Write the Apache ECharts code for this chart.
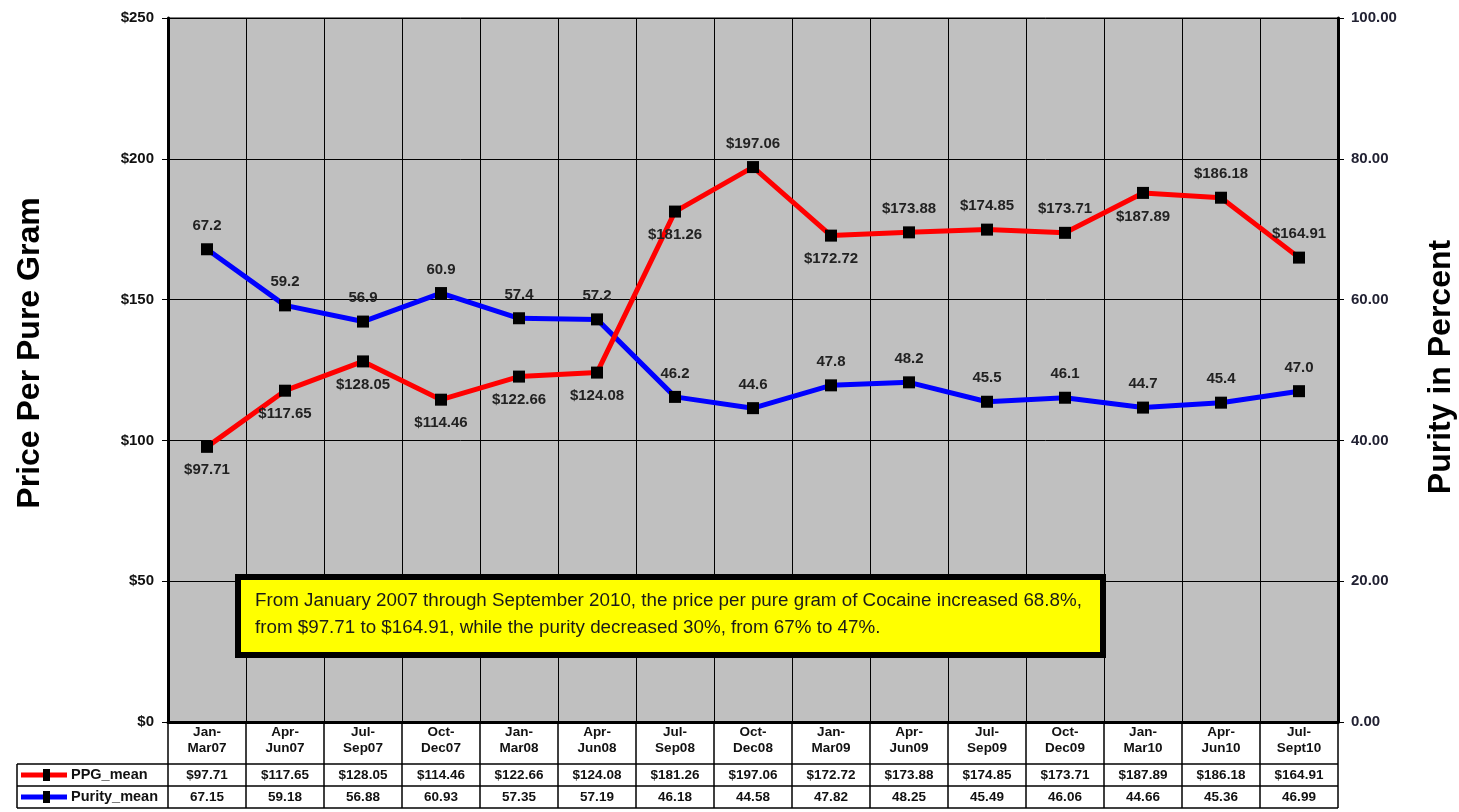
<!DOCTYPE html>
<html><head><meta charset="utf-8">
<script src="https://cdn.jsdelivr.net/npm/echarts@6/dist/echarts.min.js"></script>
<style>html,body{margin:0;padding:0;background:#fff}#c{width:1459px;height:812px}</style>
</head><body><div id="c"></div>
<script>
// ---------- data ----------
const categories = ['Jan-\nMar07','Apr-\nJun07','Jul-\nSep07','Oct-\nDec07','Jan-\nMar08','Apr-\nJun08','Jul-\nSep08','Oct-\nDec08','Jan-\nMar09','Apr-\nJun09','Jul-\nSep09','Oct-\nDec09','Jan-\nMar10','Apr-\nJun10','Jul-\nSept10'];
const ppgMean = [97.71,117.65,128.05,114.46,122.66,124.08,181.26,197.06,172.72,173.88,174.85,173.71,187.89,186.18,164.91];
const purityMean = [67.15,59.18,56.88,60.93,57.35,57.19,46.18,44.58,47.82,48.248,45.49,46.06,44.66,45.36,46.99];
const seriesNames = ['PPG_mean','Purity_mean'];
const axisTitles = ['Price Per Pure Gram','Purity in Percent'];
const annotationLines = [
  'From January 2007 through September 2010, the price per pure gram of Cocaine increased 68.8%,',
  'from $97.71 to $164.91, while the purity decreased 30%, from 67% to 47%.'
];

// ---------- styling ----------
const FONT = 'Arial, "Liberation Sans", sans-serif';
const ppgLabelSide = ['bottom','bottom','bottom','bottom','bottom','bottom','bottom','top','bottom','top','top','top','bottom','top','top'];
const colors = ['#ff0000','#0000ff'];

const chart = echarts.init(document.getElementById('c'));
const labelBase = {show:true, fontFamily:FONT, fontWeight:'bold', fontSize:15, color:'#222', distance:10};

chart.setOption({
  animation:false,
  backgroundColor:'#ffffff',
  grid:{left:168, right:121, top:18, bottom:90, show:true, backgroundColor:'#c0c0c0', borderColor:'#000', borderWidth:1, outerBoundsMode:'none', containLabel:false},
  xAxis:{
    type:'category', data:categories, boundaryGap:true,
    axisLine:{show:true, lineStyle:{color:'#000', width:3}},
    axisTick:{show:false},
    splitLine:{show:true, lineStyle:{color:'#000', width:1}},
    axisLabel:{fontFamily:FONT, fontWeight:'bold', fontSize:13.5, color:'#111', lineHeight:16, margin:2, interval:0}
  },
  yAxis:[
    {type:'value', min:0, max:250, interval:50, position:'left',
     name:axisTitles[0], nameLocation:'middle', nameRotate:90, nameGap:122,
     nameTextStyle:{fontFamily:FONT, fontWeight:'bold', fontSize:32, color:'#000', padding:[0,0,0,34]},
     axisLine:{show:true, lineStyle:{color:'#000', width:3}},
     axisTick:{show:true, length:6, lineStyle:{color:'#000'}},
     splitLine:{show:true, lineStyle:{color:'#000', width:1}},
     axisLabel:{formatter:v=>'$'+v, fontFamily:FONT, fontWeight:'bold', fontSize:15, color:'#111', margin:14}},
    {type:'value', min:0, max:100, interval:20, position:'right',
     name:axisTitles[1], nameLocation:'middle', nameRotate:90, nameGap:87,
     nameTextStyle:{fontFamily:FONT, fontWeight:'bold', fontSize:32, color:'#000', padding:[0,0,0,6]},
     axisLine:{show:true, lineStyle:{color:'#000', width:3}},
     axisTick:{show:true, length:6, lineStyle:{color:'#000'}},
     splitLine:{show:false},
     axisLabel:{formatter:v=>v.toFixed(2), fontFamily:FONT, fontWeight:'bold', fontSize:15, color:'#223', margin:13}}
  ],
  series:[
    {name:seriesNames[1], type:'line', yAxisIndex:1, data:purityMean, z:3,
     symbol:'rect', symbolSize:12, itemStyle:{color:'#000'},
     lineStyle:{color:colors[1], width:5},
     label:Object.assign({}, labelBase, {position:'top', formatter:p=>p.value.toFixed(1)})},
    {name:seriesNames[0], type:'line', yAxisIndex:0, data:ppgMean.map((v,i)=>({value:v, label:{position:ppgLabelSide[i]}})), z:4,
     symbol:'rect', symbolSize:12, itemStyle:{color:'#000'},
     lineStyle:{color:colors[0], width:5},
     label:Object.assign({}, labelBase, {formatter:p=>'$'+p.value.toFixed(2)})}
  ]
});

// ---------- data table + annotation ----------
function buildGraphics(){
  const c0 = chart.convertToPixel({xAxisIndex:0}, 0);
  const c1 = chart.convertToPixel({xAxisIndex:0}, 1);
  const w = c1 - c0;
  const left = c0 - w/2;
  const right = left + w*categories.length;
  const yBase = chart.convertToPixel({yAxisIndex:0}, 0);
  const r1 = yBase + 42, r2 = r1 + 22, r3 = r2 + 22;
  const legendLeft = 17;
  const g = [];
  const ls = {stroke:'#000', lineWidth:1.5};
  for(let b=0;b<=categories.length;b++){
    const x = left + b*w;
    g.push({type:'line', shape:{x1:x, y1:yBase, x2:x, y2:r3}, style:ls, z:10});
  }
  g.push({type:'line', shape:{x1:legendLeft, y1:r1, x2:legendLeft, y2:r3}, style:ls, z:10});
  [r1, r2, r3].forEach(y=>g.push({type:'line', shape:{x1:legendLeft, y1:y, x2:right, y2:y}, style:ls, z:10}));
  const rows = [
    {y:(r1+r2)/2, vals:ppgMean.map(v=>'$'+v.toFixed(2)), name:seriesNames[0], color:colors[0]},
    {y:(r2+r3)/2, vals:purityMean.map(v=>v.toFixed(2)), name:seriesNames[1], color:colors[1]}
  ];
  rows.forEach(r=>{
    r.vals.forEach((t,i)=>{
      g.push({type:'text', x:left + w*(i+0.5), y:r.y, z:11,
        style:{text:t, fill:'#111', font:'bold 13.5px '+FONT, textAlign:'center', textVerticalAlign:'middle'}});
    });
    g.push({type:'line', shape:{x1:21, y1:r.y, x2:67, y2:r.y}, style:{stroke:r.color, lineWidth:5}, z:11});
    g.push({type:'rect', shape:{x:43, y:r.y-6, width:7, height:12}, style:{fill:'#000'}, z:12});
    g.push({type:'text', x:71, y:r.y, z:11,
      style:{text:r.name, fill:'#111', font:'bold 14.5px '+FONT, textAlign:'left', textVerticalAlign:'middle'}});
  });
  // annotation box
  g.push({type:'rect', shape:{x:238, y:577, width:865, height:78}, style:{fill:'#ffff00', stroke:'#000', lineWidth:6}, z:20});
  g.push({type:'text', x:255, y:587, z:21,
    style:{text:annotationLines.join('\n'), fill:'#1a1a1a', font:'18.8px '+FONT, lineHeight:27, textAlign:'left', textVerticalAlign:'top'}});
  chart.setOption({graphic:g});
}
buildGraphics();
</script>
</body></html>
